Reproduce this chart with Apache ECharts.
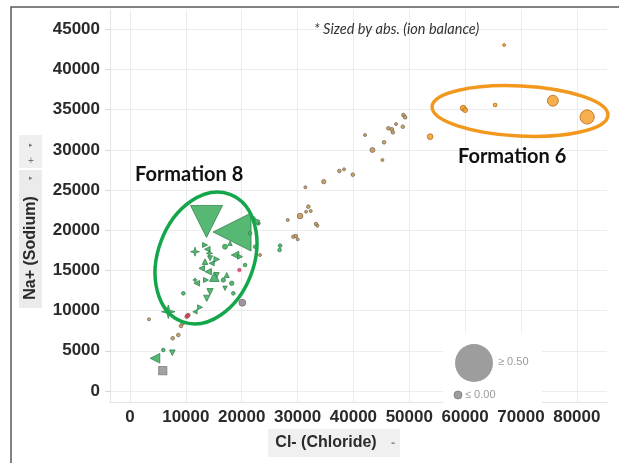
<!DOCTYPE html>
<html>
<head>
<meta charset="utf-8">
<script src="https://cdn.jsdelivr.net/npm/echarts@6/dist/echarts.min.js"></script>
<style>
html,body{margin:0;padding:0;background:#fff;}
#c{width:619px;height:463px;}
</style>
</head>
<body>
<div id="c"></div>
<script>
// ---- tick labels ----
const xTicks = [0, 10000, 20000, 30000, 40000, 50000, 60000, 70000, 80000];
const yTicks = [0, 5000, 10000, 15000, 20000, 25000, 30000, 35000, 40000, 45000];

// ---- Formation 8 (green) : Cl-, Na+, |ion balance|, well (shape) ----
const f8Cl  = [13700, 18270, 11640, 13430, 13840, 14200, 14330, 13430, 14630, 15530, 17010, 17910, 18810, 19700, 15100, 15530, 12840, 14020, 13610, 11640, 11950, 16710, 17320, 17010, 14330, 13740, 18210, 9550, 18500, 20600, 22080, 22980, 21490, 22390, 6860, 11640, 12540, 4480, 5960, 7580, 22690, 26870, 26780];
const f8Na  = [21090, 19780, 17330, 18160, 17630, 17130, 16510, 16090, 15890, 16380, 17950, 18370, 16920, 16710, 14220, 14430, 15260, 14840, 13810, 13810, 13400, 13810, 14430, 12780, 12350, 11530, 13400, 12150, 12150, 15670, 21480, 20860, 19620, 17950, 9860, 9860, 10410, 4070, 5100, 4760, 21060, 18080, 17540];
const f8Bal = [0.44, 0.53, 0.09, 0.03, 0.04, 0.05, 0.03, 0.04, 0.03, 0.04, 0.03, 0.02, 0.07, 0.03, 0.10, 0.03, 0.04, 0.05, 0.03, 0.02, 0.04, 0.02, 0.03, 0.02, 0.05, 0.05, 0.02, 0.01, 0.01, 0.01, 0.01, 0.01, 0.01, 0.01, 0.16, 0.02, 0.03, 0.10, 0.01, 0.04, 0.02, 0.01, 0.01];
const f8Well = [1, 2, 3, 5, 2, 3, 1, 4, 2, 5, 0, 4, 2, 5, 4, 1, 2, 2, 5, 3, 2, 0, 4, 1, 1, 1, 0, 0, 0, 0, 0, 0, 0, 0, 3, 2, 5, 2, 0, 1, 6, 0, 0];

// ---- Formation 6 (orange) ----
const f6Cl  = [81850, 75710, 59640, 60000, 65370, 53730, 66980];
const f6Na  = [34090, 36110, 35200, 34950, 35580, 31640, 43040];
const f6Bal = [0.17, 0.12, 0.04, 0.03, 0.01, 0.04, 0.0];

// ---- Other formations (small brown / grey marks) ----
const otherCl  = [48950, 49250, 42090, 46260, 46870, 47640, 48840, 47050, 45490, 43400, 45190, 37480, 38330, 39890, 34690, 31400, 31930, 31520, 32360, 30450, 28240, 33310, 33550, 29250, 29680, 30030, 23280, 7650, 8650, 9130, 9440, 10440, 10150, 3400];
const otherNa  = [34330, 34050, 31850, 32680, 32560, 33210, 32880, 32180, 30940, 29980, 28740, 27370, 27580, 26910, 26040, 25340, 22930, 22310, 22390, 21770, 21270, 20770, 20560, 19190, 19280, 18870, 16920, 6560, 6970, 8090, 8420, 9450, 9240, 8920];
const otherBal = [0.01, 0.01, 0.0, 0.01, 0.01, 0.0, 0.01, 0.01, 0.01, 0.03, 0.0, 0.01, 0.0, 0.01, 0.02, 0.0, 0.01, 0.0, 0.0, 0.04, 0.0, 0.01, 0.0, 0.01, 0.01, 0.0, 0.0, 0.01, 0.01, 0.01, 0.01, 0.01, 0.01, 0.0];

// ---- single marks ----
const greySqCl = [5860],  greySqNa = [2530],  greySqBal = [0.08];
const purpCl   = [20110], purpNa   = [10980], purpBal   = [0.06];
const redCl    = [19580, 10300], redNa = [15050, 9350], redBal = [0.01, 0.02];

function rows(xs, ys, bs, ws) {
  return xs.map((x, i) => [x, ys[i], bs[i], ws ? ws[i] : 0]);
}
const sizeOf = v => 3 + v[2] * 66;

const STAR = 'path://M0,-10 L2.2,-2.2 L10,0 L2.2,2.2 L0,10 L-2.2,2.2 L-10,0 L-2.2,-2.2 Z';
const DASH = 'path://M-10,-2 L10,-2 L10,2 L-10,2 Z';
const wellShape = ['circle', 'triangle', 'triangle', STAR, 'triangle', 'triangle', DASH];
const wellRot = [0, 180, 90, 0, 0, -90, -20];

const chart = echarts.init(document.getElementById('c'), null, {renderer: 'canvas'});

const axisFont = {fontFamily: 'Liberation Sans, Arial, sans-serif', fontWeight: 'bold', fontSize: 17, color: '#2a2a2a', formatter: v => String(v)};

chart.setOption({
  animation: false,
  backgroundColor: '#fff',
  grid: {left: 110, top: 10, right: 12, bottom: 61, containLabel: false},
  xAxis: {
    type: 'value', min: -3580, max: 85400,
    axisLine: {show: true, onZero: false, lineStyle: {color: '#e3e3e3'}},
    axisTick: {show: false, customValues: xTicks},
    axisLabel: Object.assign({customValues: xTicks, margin: 7}, axisFont),
    splitLine: {show: true, lineStyle: {color: '#ececec', width: 1}}
  },
  yAxis: {
    type: 'value', min: -1370, max: 47400,
    axisLine: {show: true, onZero: false, lineStyle: {color: '#e3e3e3'}},
    axisTick: {show: true, length: 5, lineStyle: {color: '#d8d8d8'}, customValues: yTicks},
    axisLabel: Object.assign({customValues: yTicks, margin: 10}, axisFont),
    splitLine: {show: true, lineStyle: {color: '#ececec', width: 1}}
  },
  series: [
    {
      name: 'Other', type: 'scatter', data: rows(otherCl, otherNa, otherBal),
      symbolSize: sizeOf,
      itemStyle: {color: '#c99a55', borderColor: '#6e6253', borderWidth: 0.8, opacity: 0.9}
    },
    {
      name: 'Formation 6', type: 'scatter', data: rows(f6Cl, f6Na, f6Bal),
      symbolSize: sizeOf,
      itemStyle: {color: '#f49a22', borderColor: '#b56d12', borderWidth: 1}
    },
    {
      name: 'Formation 8', type: 'scatter', data: rows(f8Cl, f8Na, f8Bal, f8Well),
      symbol: v => wellShape[v[3]],
      symbolRotate: v => wellRot[v[3]],
      symbolSize: sizeOf,
      itemStyle: {color: '#4db46a', borderColor: '#2f7f4a', borderWidth: 0.8, opacity: 0.95}
    },
    {
      name: 'Grey', type: 'scatter', data: rows(greySqCl, greySqNa, greySqBal),
      symbol: 'rect', symbolSize: sizeOf,
      itemStyle: {color: '#8c8c8c', borderColor: '#6a6a6a', borderWidth: 0.8}
    },
    {
      name: 'Purple', type: 'scatter', data: rows(purpCl, purpNa, purpBal),
      symbolSize: sizeOf,
      itemStyle: {color: '#8b7b86', borderColor: '#6c5e68', borderWidth: 0.8}
    },
    {
      name: 'Red', type: 'scatter', data: rows(redCl, redNa, redBal),
      symbolSize: sizeOf,
      itemStyle: {color: '#d8325f', borderColor: '#a0244a', borderWidth: 0.5}
    }
  ],
  graphic: [
    // outer frame
    {type: 'rect', shape: {x: 11, y: 7, width: 700, height: 500}, style: {fill: 'none', stroke: '#5a5a5a', lineWidth: 1.5}, z: 50, silent: true},
    // y-axis title pill
    {type: 'rect', shape: {x: 19, y: 135, width: 23, height: 33}, style: {fill: '#efefef'}, z: 50},
    {type: 'rect', shape: {x: 19, y: 170, width: 23, height: 138}, style: {fill: '#ebebeb'}, z: 50},
    {type: 'text', x: 31, y: 145, style: {text: '▸', fontSize: 7, fill: '#777', align: 'center', verticalAlign: 'middle'}, z: 51},
    {type: 'text', x: 31, y: 161, style: {text: '+', fontSize: 10, fill: '#777', align: 'center', verticalAlign: 'middle'}, z: 51},
    {type: 'text', x: 31, y: 178, style: {text: '▸', fontSize: 7, fill: '#777', align: 'center', verticalAlign: 'middle'}, z: 51},
    {type: 'text', x: 30.5, y: 248, rotation: Math.PI / 2,
     style: {text: 'Na+ (Sodium)', font: 'bold 16px "Liberation Sans", Arial, sans-serif', fill: '#2a2a2a', align: 'center', verticalAlign: 'middle'}, z: 51},
    // x-axis title pill
    {type: 'rect', shape: {x: 268, y: 429, width: 132, height: 28}, style: {fill: '#f0f0f0'}, z: 50},
    {type: 'text', x: 326, y: 443,
     style: {text: 'Cl- (Chloride)', font: 'bold 16px "Liberation Sans", Arial, sans-serif', fill: '#2a2a2a', align: 'center', verticalAlign: 'middle'}, z: 51},
    {type: 'text', x: 393, y: 444, style: {text: '-', font: 'bold 12px "Liberation Sans", Arial', fill: '#888', align: 'center', verticalAlign: 'middle'}, z: 51},
    // note
    {type: 'text', x: 314, y: 29,
     style: {text: '* Sized by abs. (ion balance)', font: 'italic 14.5px Lato, "Open Sans", sans-serif', fill: '#333', align: 'left', verticalAlign: 'middle'}, z: 51},
    // annotations
    {type: 'text', x: 135, y: 175,
     style: {text: 'Formation 8', font: 'bold 20px Lato, "Open Sans", sans-serif', fill: '#111', align: 'left', verticalAlign: 'middle'}, z: 60},
    {type: 'text', x: 458, y: 157,
     style: {text: 'Formation 6', font: 'bold 20px Lato, "Open Sans", sans-serif', fill: '#111', align: 'left', verticalAlign: 'middle'}, z: 60},
    {type: 'ellipse', x: 206, y: 258, rotation: -0.36, shape: {cx: 0, cy: 0, rx: 48, ry: 68},
     style: {fill: 'none', stroke: '#14a64a', lineWidth: 3.5}, z: 60},
    {type: 'ellipse', x: 520, y: 111, rotation: -0.05, shape: {cx: 0, cy: 0, rx: 88, ry: 25},
     style: {fill: 'none', stroke: '#f3981e', lineWidth: 3.5}, z: 60},
    // size legend
    {type: 'rect', shape: {x: 443, y: 333, width: 99, height: 70}, style: {fill: '#ffffff'}, z: 55},
    {type: 'circle', shape: {cx: 474, cy: 363, r: 19}, style: {fill: '#9d9d9d'}, z: 56},
    {type: 'text', x: 498, y: 362, style: {text: '≥ 0.50', font: '11px "Liberation Sans", Arial', fill: '#9a9a9a', verticalAlign: 'middle'}, z: 56},
    {type: 'circle', shape: {cx: 458, cy: 395, r: 4}, style: {fill: '#9d9d9d', stroke: '#7a7a7a', lineWidth: 0.8}, z: 56},
    {type: 'text', x: 465, y: 395, style: {text: '≤ 0.00', font: '11px "Liberation Sans", Arial', fill: '#9a9a9a', verticalAlign: 'middle'}, z: 56}
  ]
});
</script>
</body>
</html>
